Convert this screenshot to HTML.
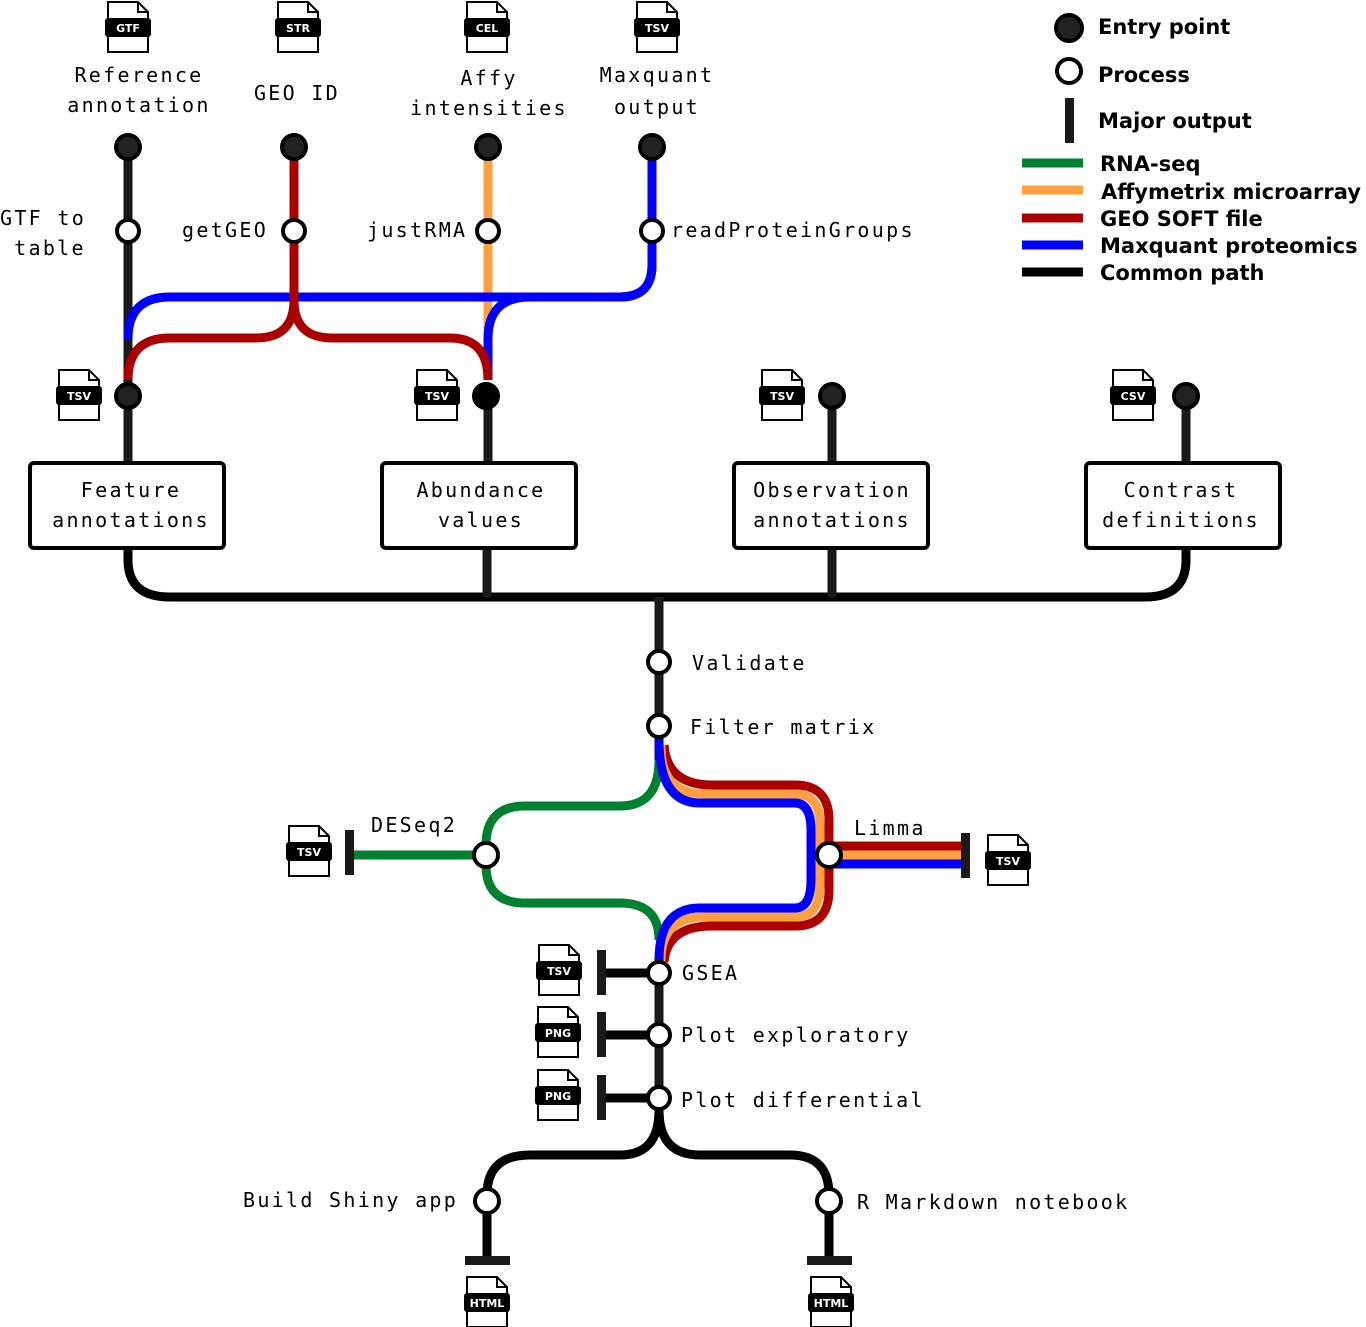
<!DOCTYPE html>
<html><head><meta charset="utf-8"><style>
html,body{margin:0;padding:0;background:#fff;width:1366px;height:1327px;overflow:hidden}
svg{display:block}
.m{font-family:"DejaVu Sans Mono","Liberation Mono",monospace;font-size:20px;letter-spacing:2.3px;fill:#000}
.l{font-family:"DejaVu Sans","Liberation Sans",sans-serif;font-size:21px;font-weight:bold;fill:#000}
.ft{font-family:"DejaVu Sans","Liberation Sans",sans-serif;font-size:11px;font-weight:bold;fill:#fff}
</style></head><body>
<svg width="1366" height="1327" viewBox="0 0 1366 1327" xmlns="http://www.w3.org/2000/svg">
<defs>
<g id="doc">
<path d="M-20,-25 H10 L20,-15 V25 H-20 Z" fill="#fff" stroke="#000" stroke-width="2"/>
<path d="M10,-25 V-15 H20" fill="none" stroke="#000" stroke-width="2"/>
<rect x="-23" y="-9" width="46" height="19" rx="3" fill="#000"/>
</g>
</defs>
<g fill="none" stroke-width="9">
<path d="M128,147 V470" stroke="#1a1a1a"/>
<path d="M488,147 V330" stroke="#ffa040"/>
<path d="M652,147 V265 Q652,297 620,297 H170 Q128,297 128,339" stroke="#0000ff"/>
<path d="M652,265 Q652,297 620,297 H530 Q488,297 488,339 V380" stroke="#0000ff"/>
<path d="M294,147 V300 Q294,338 256,338 H170 Q128,338 128,380" stroke="#aa0000"/>
<path d="M294,300 Q294,338 332,338 H450 Q488,338 488,380" stroke="#aa0000"/>
<path d="M488,396 V470" stroke="#1a1a1a"/>
<path d="M832,396 V470" stroke="#1a1a1a"/>
<path d="M1186,396 V470" stroke="#1a1a1a"/>
<path d="M128,545 V560 Q128,597 170,597 H1145 Q1186,597 1186,560 V545" stroke="#000"/>
<path d="M487,545 V597 M832,545 V597" stroke="#1a1a1a"/>
<path d="M659,597 V760" stroke="#1a1a1a"/>
<path d="M659,760 Q659,806 620,806 H525 Q486,806 486,845" stroke="#008130"/>
<path d="M486,865 Q486,903 525,903 H620 Q659,903 659,940" stroke="#008130"/>
<path d="M353,855 H486" stroke="#008130"/>
<path d="M664,745 Q667,785 712,785 H795 Q829,785 829,820 V890 Q829,926 795,926 H712 Q667,926 664,962" stroke="#aa0000"/>
<path d="M661,745 Q660,794 705,794 H795 Q820,794 820,825 V885 Q820,917 795,917 H705 Q660,917 661,962" stroke="#ffa040"/>
<path d="M659,740 Q659,803 700,803 H795 Q811,803 811,830 V880 Q811,908 795,908 H700 Q659,908 659,960" stroke="#0000ff"/>
<path d="M829,846 H962" stroke="#aa0000"/>
<path d="M829,855 H962" stroke="#ffa040"/>
<path d="M829,864 H962" stroke="#0000ff"/>
<path d="M659,960 V1110" stroke="#1a1a1a"/>
<path d="M605,973 H659 M605,1035 H659 M605,1098 H659" stroke="#000"/>
<path d="M659,1110 Q659,1155 620,1155 H530 Q487,1155 487,1195 V1258" stroke="#000"/>
<path d="M659,1110 Q659,1155 700,1155 H790 Q829,1155 829,1195 V1258" stroke="#000"/>
</g>
<g fill="#1a1a1a">
<rect x="345" y="830" width="9" height="45"/>
<rect x="961" y="833" width="9" height="45"/>
<rect x="597" y="950" width="9" height="45"/>
<rect x="597" y="1012" width="9" height="45"/>
<rect x="597" y="1075" width="9" height="45"/>
<rect x="465" y="1256" width="45" height="9"/>
<rect x="807" y="1256" width="45" height="9"/>
<rect x="1065" y="98" width="9" height="45"/>
</g>
<g fill="#222" stroke="#000" stroke-width="4">
<circle cx="128" cy="147" r="12"/><circle cx="294" cy="147" r="12"/><circle cx="488" cy="147" r="12"/><circle cx="652" cy="147" r="12"/>
<circle cx="128" cy="396" r="12"/><circle cx="486" cy="396" r="12" fill="#000"/><circle cx="832" cy="396" r="12"/><circle cx="1186" cy="396" r="12"/>
<circle cx="1069" cy="28" r="13"/>
</g>
<g fill="#fff" stroke="#000" stroke-width="4">
<circle cx="128" cy="231" r="11"/><circle cx="294" cy="231" r="11"/><circle cx="488" cy="231" r="11"/><circle cx="652" cy="231" r="11"/>
<circle cx="659" cy="662" r="11"/><circle cx="659" cy="726" r="11"/>
<circle cx="486" cy="855" r="12"/><circle cx="829" cy="855" r="12"/>
<circle cx="659" cy="973" r="11"/><circle cx="659" cy="1035" r="11"/><circle cx="659" cy="1098" r="11"/>
<circle cx="487" cy="1201" r="12"/><circle cx="829" cy="1201" r="12"/>
<circle cx="1069" cy="71" r="12"/>
</g>
<g fill="#fff" stroke="#000" stroke-width="4">
<rect x="30" y="463" width="194" height="85" rx="4"/>
<rect x="382" y="463" width="194" height="85" rx="4"/>
<rect x="734" y="463" width="194" height="85" rx="4"/>
<rect x="1086" y="463" width="194" height="85" rx="4"/>
</g>
<g class="m" text-anchor="middle">
<text x="131" y="497">Feature</text><text x="131" y="527">annotations</text>
<text x="481" y="497">Abundance</text><text x="481" y="527">values</text>
<text x="832" y="497">Observation</text><text x="832" y="527">annotations</text>
<text x="1181" y="497">Contrast</text><text x="1181" y="527">definitions</text>
<text x="139" y="82">Reference</text><text x="139" y="112">annotation</text>
<text x="297" y="100">GEO ID</text>
<text x="489" y="85">Affy</text><text x="489" y="115">intensities</text>
<text x="657" y="82">Maxquant</text><text x="657" y="114">output</text>
<text x="43" y="225">GTF to</text><text x="50" y="255">table</text>
</g>
<g class="m">
<text x="182" y="237">getGEO</text>
<text x="367" y="237">justRMA</text>
<text x="671" y="237">readProteinGroups</text>
<text x="692" y="670">Validate</text>
<text x="690" y="734">Filter matrix</text>
<text x="371" y="832">DESeq2</text>
<text x="854" y="835">Limma</text>
<text x="682" y="980">GSEA</text>
<text x="681" y="1042">Plot exploratory</text>
<text x="681" y="1107">Plot differential</text>
<text x="243" y="1207">Build Shiny app</text>
<text x="857" y="1209">R Markdown notebook</text>
</g>
<g stroke-width="9">
<path d="M1022,163 H1083" stroke="#008130"/>
<path d="M1022,190 H1083" stroke="#ffa040"/>
<path d="M1022,218 H1083" stroke="#aa0000"/>
<path d="M1022,245 H1083" stroke="#0000ff"/>
<path d="M1022,272 H1083" stroke="#000"/>
</g>
<g class="l">
<text x="1098" y="34">Entry point</text>
<text x="1098" y="82">Process</text>
<text x="1098" y="128">Major output</text>
<text x="1100" y="171">RNA-seq</text>
<text x="1101" y="199">Affymetrix microarray</text>
<text x="1100" y="226">GEO SOFT file</text>
<text x="1100" y="253">Maxquant proteomics</text>
<text x="1100" y="280">Common path</text>
</g>
<g>
<use href="#doc" x="128" y="27"/><use href="#doc" x="298" y="27"/><use href="#doc" x="487" y="27"/><use href="#doc" x="657" y="27"/>
<use href="#doc" x="79" y="395"/><use href="#doc" x="437" y="395"/><use href="#doc" x="782" y="395"/><use href="#doc" x="1133" y="395"/>
<use href="#doc" x="309" y="851"/><use href="#doc" x="1008" y="860"/>
<use href="#doc" x="559" y="970"/><use href="#doc" x="558" y="1032"/><use href="#doc" x="558" y="1095"/>
<use href="#doc" x="487" y="1302"/><use href="#doc" x="831" y="1302"/>
</g>
<g class="ft" text-anchor="middle">
<text x="128" y="32">GTF</text><text x="298" y="32">STR</text><text x="487" y="32">CEL</text><text x="657" y="32">TSV</text>
<text x="79" y="400">TSV</text><text x="437" y="400">TSV</text><text x="782" y="400">TSV</text><text x="1133" y="400">CSV</text>
<text x="309" y="856">TSV</text><text x="1008" y="865">TSV</text>
<text x="559" y="975">TSV</text><text x="558" y="1037">PNG</text><text x="558" y="1100">PNG</text>
<text x="487" y="1307">HTML</text><text x="831" y="1307">HTML</text>
</g>
</svg>
</body></html>
